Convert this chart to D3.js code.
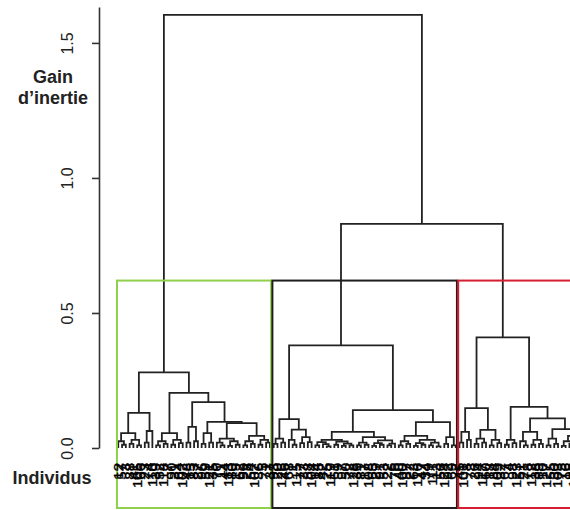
<!DOCTYPE html>
<html><head><meta charset="utf-8">
<script src="https://cdn.jsdelivr.net/npm/d3@7"></script>
<style>html,body{margin:0;padding:0;background:#fff;overflow:hidden}</style>
</head><body>
<svg id="chart" width="570" height="510"></svg>
<script>
// ---------- DATA (node = [merge height, left, right]; leaf = individual label) ----------
const greenG1 = [0.13,
  [0.055, [0.025, 12, [0.012, 57, 3]], [0.03, [0.015, 88, 41], [0.01, 105, 66]]],
  [0.063, [0.02, 23, 74], 110]];
const greenG2a = [0.055, [0.025, [0.01, 39, 52], [0.015, 118, 7]], [0.03, [0.012, 90, 31], [0.018, 64, 102]]];
const greenG2b = [0.17,
  [0.078, [0.02, 48, 15], [0.025, 83, 27]],
  [0.097,
    [0.055, [0.015, 96, 59], [0.02, 121, 35]],
    [0.092,
      [0.035, [0.02, 70, [0.01, 11, 44]], [0.025, [0.008, 113, 80], [0.012, 19, 62]]],
      [0.045, [0.025, [0.01, 99, 28], [0.015, 54, 107]], [0.03, [0.012, 86, 5], [0.02, 71, 37]]]]]];
const greenTree = [0.28, greenG1, [0.204, greenG2a, greenG2b]];

const blackB1 = [0.107,
  [0.035, [0.015, 93, 20], [0.02, 126, 46]],
  [0.068, [0.03, 68, [0.012, 1, 115]], [0.04, [0.018, 77, 33], [0.022, 58, 104]]]];
const blackB2L = [0.06,
  [0.03, [0.022, [0.01, 14, 85], [0.014, 42, [0.006, 25, 119]]], [0.024, [0.012, 61, 9], [0.016, [0.008, 97, 50], [0.01, 72, 128]]]],
  [0.04, [0.02, [0.01, 36, 81], [0.012, 17, 108]], [0.028, [0.018, [0.008, 65, 29], [0.012, 91, 53]], [0.016, [0.01, 122, 6], 76]]]];
const blackB2R = [0.096,
  [0.045, [0.025, [0.01, 40, 100], [0.015, 87, 22]], [0.03, [0.018, [0.008, 63, 116], [0.012, 47, 34]], [0.02, [0.01, 79, 111], [0.006, 13, 56]]]],
  [0.04, [0.015, 124, 92], [0.01, 69, 2]]];
const blackTree = [0.38, blackB1, [0.14, blackB2L, blackB2R]];

const redR1 = [0.148,
  [0.06, [0.02, 45, 101], [0.03, 8, 73]],
  [0.067, [0.035, [0.015, 26, 94], [0.02, 117, 60]], [0.03, [0.01, 18, 84], [0.018, 109, 32]]]];
const redR2 = [0.152,
  [0.03, [0.012, 67, 4], [0.018, 98, 123]],
  [0.11,
    [0.06, [0.025, 51, [0.01, 21, 78]], [0.03, [0.012, 112, 38], [0.015, 89, 10]]],
    [0.07, [0.035, [0.01, 127, 55], [0.015, 30, 103]],
      [0.045, [0.025, [0.008, 75, 16], [0.016, 95, [0.01, 120, 43]]],
        [0.028, [0.012, 82, 24], [0.02, 114, [0.012, 49, [0.006, 106, 125]]]]]]]];
const redTree = [0.41, redR1, redR2];

const upperMerges = [0.83, 1.604];          // (black+red), (green+rest)
const clusterColors = ["#90cf4c", "#1e1e1e", "#d41f30"];
const yTicks = [0, 0.5, 1.0, 1.5];
const yTickLabels = ["0.0", "0.5", "1.0", "1.5"];
const yAxisMax = 1.633;
const yTitleLines = ["Gain", "d\u2019inertie"];
const xTitle = "Individus";

// ---------- LAYOUT ----------
const svg = d3.select("#chart");
const FONT = "'Liberation Sans', Arial, Helvetica, sans-serif";

function build(a) {
  return Array.isArray(a) ? { h: a[0], children: [build(a[1]), build(a[2])] } : { h: 0, label: String(a) };
}
const fullTree = [upperMerges[1], greenTree, [upperMerges[0], blackTree, redTree]];
const root = d3.hierarchy(build(fullTree));
const leaves = root.leaves();
const n = leaves.length;
const pad = 0.04 * (n - 1);
const x = d3.scaleLinear().domain([1 - pad, n + pad]).range([99, 619]);
const y = d3.scaleLinear().domain([0, yAxisMax]).range([448, 7]);
leaves.forEach((d, i) => d.pos = i + 1);
root.eachAfter(d => { if (d.children) d.pos = (d.children[0].pos + d.children[1].pos) / 2; });

// ---------- TREE ----------
const internal = root.descendants().filter(d => d.children);
svg.append("g").selectAll("path").data(internal).join("path")
  .attr("d", d => {
    const [a, b] = d.children;
    return `M${x(a.pos)},${y(a.data.h)}V${y(d.data.h)}H${x(b.pos)}V${y(b.data.h)}`;
  })
  .attr("fill", "none").attr("stroke", "#222").attr("stroke-width", 1.8);

// ---------- CLUSTER RECTANGLES ----------
const hs = internal.map(d => d.data.h).sort((a, b) => b - a);
const cutH = (hs[1] + hs[2]) / 2;
const clusters = [root.children[0], root.children[1].children[0], root.children[1].children[1]];
svg.append("g").selectAll("rect").data(clusters).join("rect")
  .attr("x", d => x(d3.min(d.leaves(), l => l.pos) - 0.34))
  .attr("width", d => x(d3.max(d.leaves(), l => l.pos) + 0.33) - x(d3.min(d.leaves(), l => l.pos) - 0.34))
  .attr("y", y(cutH))
  .attr("height", 508 - y(cutH))
  .attr("fill", "none")
  .attr("stroke", (d, i) => clusterColors[i])
  .attr("stroke-width", 2);

// ---------- LEAF LABELS ----------
svg.append("g").selectAll("text").data(leaves).join("text")
  .attr("transform", d => `translate(${x(d.pos) + 4.3},463) rotate(-90) scale(1.25,1)`)
  .attr("text-anchor", "end")
  .attr("font-family", FONT).attr("font-size", 12).attr("fill", "#000")
  .attr("stroke", "#000").attr("stroke-width", 0.35)
  .text(d => d.data.label);

// ---------- Y AXIS ----------
const ax = svg.append("g").attr("transform", "translate(99,0)")
  .call(d3.axisLeft(y).tickValues(yTicks).tickFormat((d, i) => yTickLabels[i]).tickSize(7).tickSizeOuter(0));
ax.select(".domain").attr("stroke", "#333").attr("stroke-width", 1.6);
ax.selectAll(".tick line").attr("stroke", "#333").attr("stroke-width", 1.6);
ax.selectAll(".tick text")
  .attr("transform", "rotate(-90)").attr("x", 0).attr("y", -26).attr("dy", 0)
  .attr("text-anchor", "middle")
  .attr("font-family", FONT).attr("font-size", 16).attr("fill", "#222");

// ---------- TITLES ----------
svg.append("g").selectAll("text").data(yTitleLines).join("text")
  .attr("x", 53).attr("y", (d, i) => 83 + i * 21)
  .attr("text-anchor", "middle").attr("font-family", FONT).attr("font-weight", "bold")
  .attr("font-size", 18).attr("fill", "#222").text(d => d);
svg.append("text").attr("x", 52).attr("y", 484)
  .attr("text-anchor", "middle").attr("font-family", FONT).attr("font-weight", "bold")
  .attr("font-size", 18).attr("fill", "#222").text(xTitle);
</script>
</body></html>
